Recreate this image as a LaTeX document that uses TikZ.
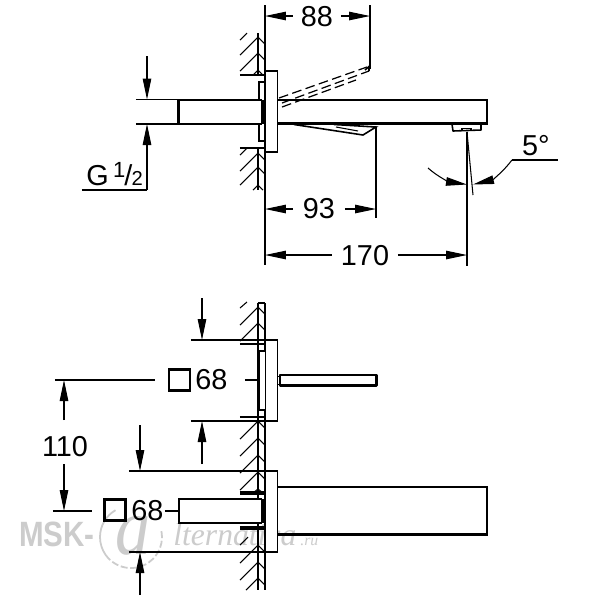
\documentclass[tikz,border=0pt]{standalone}
\usepackage{fontspec}
\setmainfont{Liberation Sans}
\newfontfamily\wmserif{Liberation Serif}
\usetikzlibrary{arrows.meta}
\newcommand{\hatchtips}[1]{\foreach \t in {#1}{\draw[thinline] (240,{\t+18}) -- (258,\t) -- (265,{\t+7});}}
\tikzset{
  x=0.02cm,y=-0.02cm,
  thinline/.style={line width=0.6pt,black},
  midline/.style={line width=0.9pt,black},
  thickline/.style={line width=1.45pt,black,line join=miter},
  heavyline/.style={line width=1.9pt,black,line join=miter},
  dimhead/.style={thinline,-{Triangle[length=0.42cm,width=0.17cm]}},
  dimlabel/.style={font=\fontsize{16.4}{18}\selectfont,inner sep=0pt,black},
  dashlever/.style={line width=0.7pt,black,dash pattern=on 5.5pt off 2.5pt},
  watermark/.style={inner sep=0pt,text=black!20},
}
\begin{document}
\begin{tikzpicture}
\useasboundingbox (0,0) rectangle (600,600);
\fill[white] (0,0) rectangle (600,600);
% watermark
\node[watermark,font=\fontsize{20}{24}\selectfont\bfseries,xscale=0.84,anchor=base] (wmA) at (57,546) {MSK-};
\draw[black!20,line width=1pt] (115.5,510.2) arc (240:145:31);
\draw[black!20,line width=1pt,dash pattern=on 4pt off 1.5pt] (105.6,554.8) arc (145:-15:31);
\node[watermark,font=\wmserif\itshape\fontsize{40}{44}\selectfont,yscale=1.15] (wmB) at (133,536) {a};
\node[watermark,font=\wmserif\itshape\fontsize{18}{20}\selectfont,anchor=base west] (wmC) at (173,545) {lternativa};
\node[watermark,font=\wmserif\itshape\fontsize{9}{10}\selectfont,anchor=base west] (wmD) at (300,545) {.ru};

% ---------- top view: wall
\draw[thinline] (258,33) -- (258,75) (258,147) -- (258,190);
\draw[midline] (265,5) -- (265,265);
\hatchtips{37,53}
\draw[thinline] (240,40) -- (247,33) (253,75) -- (258,70) -- (263,75);
\hatchtips{153,167}
\draw[thinline] (240,155) -- (247,148) (253,190) -- (258,185) -- (263,190);
\draw[midline] (240,75) -- (265,75) (240,148) -- (265,148);
% plate
\draw[midline] (265,71) rectangle (277.5,152);
\draw[midline] (265,82) -- (259,82) -- (259,141) -- (265,141);
% pipe
\draw[thickline,fill=white] (262,100) -- (178.5,100) -- (178.5,124) -- (262,124);
\fill[black] (261,100) rectangle (265,124);
% spout
\draw[thickline] (278,100) -- (487,100) -- (487,123.5) -- (278,123.5);
\draw[midline,line join=round] (452,124) -- (453,131) -- (481,130) -- (481,124);
\draw[midline] (462,128.5) rectangle (471,130.5);
% lever
\draw[midline] (294,124.5) -- (363,135) -- (376,127) -- (334,124.5);
\draw[thinline] (336,127) -- (358,131);
\draw[midline] (376,127) -- (376,218);
% dashed lever
\draw[dashlever] (279,98) -- (367,67);
\draw[dashlever] (282,103) -- (369,71);
\draw[dashlever] (282,107) -- (356,80);
\draw[thinline] (370,5) -- (370,69);
\draw[midline] (365,70) -- (369,66.5) -- (369,71);
% G 1/2 dim
\draw[thinline] (136,99.5) -- (178,99.5) (136,124) -- (178,124);
\draw[dimhead] (147,56) -- (147,99.5);
\draw[dimhead] (147,190) -- (147,124);
\draw[thinline] (82,190) -- (147,190);
\node[font=\fontsize{16.4}{18}\selectfont,inner sep=0pt,anchor=base west] (tG) at (86,185) {G\kern2.5pt\raisebox{4.5pt}{\fontsize{12.5}{14}\selectfont 1}\kern-0.5pt/\kern-0.5pt{\fontsize{11.5}{12}\selectfont 2}};
% 88
\node[dimlabel] (t88) at (317,17) {88};
\draw[dimhead] (293,16) -- (265,16);
\draw[dimhead] (341,16) -- (370,16);
% 93
\node[dimlabel] (t93) at (319,209) {93};
\draw[dimhead] (293,209) -- (265,209);
\draw[dimhead] (345,209) -- (376,209);
% 170
\node[dimlabel] (t170) at (365,256) {170};
\draw[dimhead] (332,255) -- (265,255);
\draw[dimhead] (398,255) -- (467,255);
% 5 deg
\draw[thinline] (467,132) -- (467,266);
\draw[thinline] (467,132) -- (473,195);
\draw[dimhead] (428,168) .. controls (438,177) and (450,182) .. (467,184.5);
\draw[dimhead] (512,160) .. controls (503,172) and (492,180) .. (473,184.5);
\draw[thinline] (512,160) -- (558,160);
\node[dimlabel] (t5) at (536,146) {5°};

% ---------- bottom view: wall
\draw[midline] (258,303) -- (258,590) (265,303) -- (265,590) (258,303) -- (265,303);
\hatchtips{307,323}
\draw[thinline] (240,308) -- (247,302);
\hatchtips{421,438,455,472}
\draw[thinline] (253,493) -- (258,489) -- (263,493);
\hatchtips{545,562}
\draw[thinline] (240,545) -- (248,537);
\draw[thinline] (246,590) -- (258,578) -- (265,585);
% upper plate
\draw[midline,fill=white] (265,340) rectangle (277.5,421);
\draw[midline,fill=white] (265,351) -- (259,351) -- (259,410) -- (265,410);
\draw[thickline] (240,344) -- (265,344) (240,417) -- (265,417);
\draw[midline] (191,340) -- (277,340) (191,421) -- (277,421);
\draw[dimhead] (202,298) -- (202,340);
\draw[dimhead] (202,464) -- (202,421);
% thin spout
\draw[line width=1.2pt,fill=white,line join=round] (280,375) rectangle (376.5,385.5);
\draw[midline] (277.5,376.5) -- (280,376.5) (277.5,384.5) -- (280,384.5);
\draw[thinline] (245,380) -- (259,380);
% lower plate + spout
\draw[midline,fill=white] (265,471) rectangle (277.5,552);
\draw[thickline] (278,487) -- (487,487) -- (487,534.5) -- (278,534.5);
\draw[heavyline] (240,493) -- (265,493) (240,528) -- (265,528);
\draw[midline] (129,471) -- (277,471) (129,552) -- (277,552);
\draw[dimhead] (140,425) -- (140,471);
\draw[dimhead] (140,595) -- (140,552);
% lower pipe
\draw[thickline,fill=white] (262,499) -- (179,499) -- (179,523) -- (262,523);
\fill[black] (261,499) rectangle (265,523);
\draw[thinline] (165,511) -- (179,511);
% labels
\node[draw,line width=1.7pt,minimum size=0.42cm,inner sep=0pt] (sqA) at (179.5,380) {};
\node[dimlabel,anchor=west] (t68a) at (195,380) {68};
\node[draw,line width=1.7pt,minimum size=0.42cm,inner sep=0pt] (sqB) at (115,510) {};
\node[dimlabel,anchor=west] (t68b) at (131,511) {68};
\draw[thinline] (55,380) -- (155,380);
\node[dimlabel] (t110) at (65,447) {110};
\draw[dimhead] (64,420) -- (64,380);
\draw[dimhead] (64,464) -- (64,511);
\draw[thinline] (53,511) -- (92,511);
\end{tikzpicture}
\end{document}
